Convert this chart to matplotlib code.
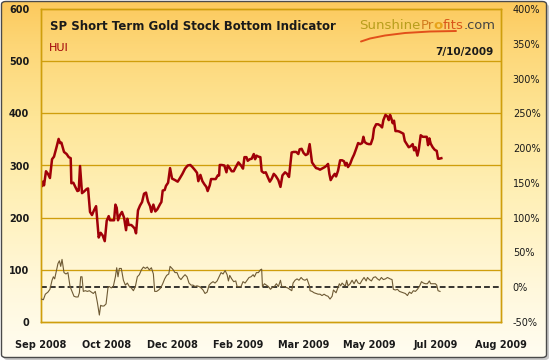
import numpy as np
import pandas as pd
import matplotlib
matplotlib.use('Agg')
import matplotlib.pyplot as plt
import matplotlib.dates as mdates
from matplotlib.patches import FancyBboxPatch
from matplotlib.colors import LinearSegmentedColormap

# Figure setup
W, H, DPI = 550, 361, 100
GOLD = '#CF9E0C'
HUI_RED = '#A00008'
OSC_BROWN = '#6E5A34'
TEXT_COLOR = '#1A1A1A'

START = pd.Timestamp('2008-09-05')

# HUI index (days after START, value)
hui_day = [0.8, 1.5, 2.3, 3.8, 5.3, 6.8, 8.4, 9.9, 11.7, 13.4,
           14.5, 15.5, 17.5, 19.5, 21.1, 22.6, 23.1, 24.6, 26.1, 27.7,
           28.7, 29.7, 31.2, 32.7, 34.8, 35.8, 37.3, 38.8, 40.3, 41.9,
           43.9, 45.4, 46.9, 48.5, 50.0, 51.5, 52.5, 54.0, 55.6, 56.6,
           57.6, 58.6, 60.1, 61.6, 63.2, 64.7, 65.7, 66.7, 68.7, 70.3,
           71.3, 72.3, 73.8, 75.3, 76.9, 78.4, 79.9, 81.4, 83.0, 84.0,
           85.5, 87.0, 88.5, 90.6, 91.6, 92.6, 94.1, 95.1, 96.7, 98.2,
           99.7,
           102.0, 104.0, 105.5, 107.6, 109.6, 111.6, 113.6, 115.2, 117.2, 118.7,
           119.7, 121.3, 122.8, 124.3, 125.8, 126.8, 128.4, 129.4, 131.4, 132.9,
           134.5, 135.5, 136.0, 137.5, 139.5, 141.1, 142.1, 143.6, 145.1, 146.6,
           148.2, 150.2, 152.2, 153.7, 154.8, 156.3, 157.3, 158.8, 160.3, 161.9,
           162.9, 163.9, 165.4, 166.9, 167.9, 169.5, 171.0, 172.5, 174.1, 175.6,
           177.1, 178.6, 180.6, 182.2, 183.7, 185.7, 187.2, 188.7, 189.7, 190.7,
           192.2, 194.2, 195.8, 196.8, 198.3, 199.8, 201.4, 202.9, 204.4,
           206.2, 207.8, 209.3, 210.8, 212.3, 213.8, 215.9, 217.4, 218.4, 219.4,
           220.4, 222.0, 223.5, 224.5, 226.0, 227.6, 229.1, 230.6, 231.6, 232.6,
           233.6, 235.2, 236.7, 238.2, 239.8, 241.3, 242.8, 244.3, 245.3, 246.3,
           247.9, 249.4, 250.9, 252.4, 253.4, 255.0, 256.5, 258.0, 259.5, 260.5,
           262.1, 263.6, 264.6, 265.6, 266.6, 267.6, 268.6, 269.7, 271.2, 272.7,
           274.2, 275.7, 276.8, 278.3, 279.8, 281.3, 282.8, 283.9, 284.9, 286.4,
           287.4, 288.9, 290.5, 292.0, 293.5, 294.5, 295.5, 296.5, 298.0, 299.6,
           301.1, 302.1, 303.1, 304.6]
hui_val = [261, 269, 262, 289, 284, 276, 312, 317, 334, 351,
           343, 344, 326, 322, 316, 314, 266, 267, 259, 251,
           252, 299, 247, 250, 255, 256, 211, 205, 214, 222,
           162, 171, 166, 155, 194, 203, 195, 195, 195, 225,
           219, 195, 205, 211, 200, 176, 198, 186, 186, 182,
           179, 170, 214, 223, 230, 246, 248, 231, 222, 211,
           225, 212, 216, 226, 230, 252, 253, 261, 267, 295,
           275,
           272, 269, 275, 284, 294, 300, 301, 297, 291, 286,
           270, 282, 270, 264, 259, 251, 262, 274, 274, 274,
           281, 281, 301, 301, 300, 287, 300, 295, 289, 289,
           297, 306, 300, 294, 316, 316, 309, 312, 313, 322,
           312, 319, 317, 316, 289, 286, 287, 278, 269, 275,
           284, 280, 272, 259, 281, 287, 284, 278, 301, 325,
           326, 326, 322, 331, 332, 324, 320, 322, 341,
           306, 300, 295, 294, 292, 294, 297, 300, 303, 284,
           272, 279, 284, 279, 290, 310, 310, 308, 300, 305,
           297, 303, 313, 321, 332, 343, 341, 343, 355, 345,
           342, 341, 341, 352, 371, 379, 379, 377, 373, 387,
           397, 394, 387, 397, 390, 381, 386, 366, 366, 365,
           363, 361, 347, 341, 335, 337, 341, 329, 335, 319,
           330, 358, 355, 355, 355, 339, 352, 342, 335, 330,
           328, 313, 313, 314]

# Short term indicator in % (days after START, value)
osc_day = [0.3, 1.8, 3.3, 5.3, 6.8, 8.4, 9.4, 10.4, 11.4, 12.9,
           14.0, 15.0, 16.0, 17.5, 19.0, 20.5, 22.1, 23.6, 25.1, 26.6,
           28.2, 29.2, 30.2, 31.2, 32.2, 33.7, 35.3, 36.8, 38.3, 39.8,
           41.3, 42.9, 44.4, 45.4, 46.4, 47.9, 49.5, 51.0, 52.0, 53.5,
           55.0, 56.6, 57.6, 58.6, 59.6, 61.1, 62.7, 64.2, 65.7, 67.2,
           68.7, 70.3, 71.8, 73.3, 74.8, 76.4, 77.9, 79.4, 80.9, 82.4,
           84.0, 85.5, 86.5, 88.0, 89.5, 91.1, 92.6, 94.1, 95.6, 97.2,
           98.2, 100.2,
           102.0, 103.5, 105.0, 106.5, 108.1, 109.6, 111.1, 112.6, 114.2, 115.7,
           117.2, 118.7, 120.3, 121.8, 123.3, 124.8, 126.4, 127.9, 129.4, 130.9,
           132.4, 134.0, 135.5, 137.0, 138.5, 140.1, 141.6, 142.6, 143.6, 145.1,
           146.6, 148.2, 149.2, 150.7, 152.2, 153.7, 155.3, 156.8, 158.3, 159.8,
           161.4, 162.4, 163.9, 165.4, 166.9, 167.9, 168.5, 170.0, 171.5, 173.0,
           174.6, 176.1, 177.6, 179.1, 180.6, 182.2, 183.2, 184.7, 186.2, 187.7,
           189.3, 190.8, 191.8, 193.3, 194.8, 196.3, 197.9, 199.4, 200.9, 202.4,
           204.4,
           204.7, 206.2, 207.8, 209.3, 210.8, 212.3, 213.8, 215.4, 216.9, 218.4,
           219.9, 221.5, 222.5, 223.5, 224.5, 226.0, 227.0, 228.0, 229.1, 230.6,
           231.6, 232.6, 233.6, 235.2, 236.7, 238.2, 239.8, 241.3, 242.8, 244.3,
           245.8, 247.4, 248.4, 249.9, 251.4, 252.9, 254.5, 256.0, 257.5, 259.0,
           260.5, 262.1, 263.6, 265.6, 267.1, 268.1, 269.6, 271.2, 272.7, 274.2,
           275.7, 277.2, 278.8, 280.3, 281.8, 283.3, 284.9, 286.4, 287.9, 289.5,
           291.0, 292.5, 294.0, 295.5, 296.5, 298.0, 300.1, 301.1, 302.1, 303.6]
osc_val = [-17, -18, -10, -7, -3, 10, 15, 12, 21, 34,
           38, 30, 40, 21, 19, 21, 1, -6, -13, -14,
           -14, -8, 15, 15, -6, -5, -6, -5, -7, -9,
           -6, -22, -40, -26, -27, -27, -24, 0, 1, -1,
           1, 15, 28, 15, 27, 27, 10, 3, 6, 1,
           -1, -5, 1, 15, 18, 25, 29, 27, 29, 25,
           28, 19, -6, -6, -4, -1, 5, 12, 17, 19,
           30, 26,
           21, 21, 14, 11, 15, 18, 15, 6, 3, 3,
           1, 2, 1, -1, -4, -9, -7, 3, 6, 8,
           6, 9, 15, 21, 19, 24, 18, 9, 17, 12,
           8, 9, 1, 1, 1, 8, 6, 10, 14, 15,
           18, 15, 21, 21, 25, 26, 1, 5, 3, 1,
           -3, 0, 1, 5, 1, 10, 1, 1, 0, -1,
           -3, -5, 6, 10, 12, 10, 14, 11, 10, 12,
           1,
           -5, -6, -8, -9, -10, -10, -12, -10, -12, -13,
           -17, -13, -4, -6, -8, 0, 5, 2, 6, 3,
           2, 10, 2, 5, 10, 5, 11, 6, 5, 10,
           14, 9, 14, 11, 9, 14, 15, 12, 10, 14,
           11, 12, 14, 12, 11, -3, -4, -3, -6, -7,
           -8, -9, -12, -7, -9, -5, -6, -3, 1, 8,
           6, 5, 5, 9, 5, 5, 5, 3, -5, -6]

left_ticks = [0, 100, 200, 300, 400, 500, 600]
right_ticks = [-50, 0, 50, 100, 150, 200, 250, 300, 350, 400]
tick_step_days = 50
n_ticks = 8


def px(x):
    return x / W


def py(y):
    return 1 - y / H


def main():
    plt.rcParams['font.family'] = 'DejaVu Sans'
    fig = plt.figure(figsize=(W / DPI, H / DPI), dpi=DPI, facecolor='white')

    # Fondo con degradado y borde redondeado
    frame = FancyBboxPatch((px(1.5), py(357.5)), px(545), 356 / H,
                           boxstyle='round,pad=0,rounding_size=0.008',
                           transform=fig.transFigure, facecolor='none',
                           edgecolor='#4A4A4A', linewidth=1.0, zorder=5)
    shadow = FancyBboxPatch((px(3.5), py(360)), px(545.5), 356 / H,
                            boxstyle='round,pad=0,rounding_size=0.008',
                            transform=fig.transFigure, facecolor='#C8C8C8',
                            edgecolor='none', zorder=0)
    fig.patches.append(shadow)

    bg = fig.add_axes([0, 0, 1, 1], zorder=1)
    cmap = LinearSegmentedColormap.from_list('sun', [
        (0.0, '#FCC95C'), (0.12, '#FDD676'), (0.32, '#FEE596'),
        (0.55, '#FFF0B8'), (0.8, '#FFF8DC'), (1.0, '#FFFDF2')])
    grad = np.linspace(0, 1, 256).reshape(-1, 1)
    im = bg.imshow(grad, cmap=cmap, aspect='auto', extent=[0, 1, 0, 1],
                   origin='upper')
    bg_clip = FancyBboxPatch((px(1.5), py(357.5)), px(545), 356 / H,
                             boxstyle='round,pad=0,rounding_size=0.008',
                             transform=fig.transFigure, facecolor='none',
                             edgecolor='none')
    im.set_clip_path(bg_clip)
    bg.set_xlim(0, 1)
    bg.set_ylim(0, 1)
    bg.axis('off')
    fig.patches.append(frame)

    # Eje principal
    ax = fig.add_axes([px(41), py(322), px(460), 313 / H], zorder=2)
    ax.patch.set_alpha(0)
    ax2 = ax.twinx()
    ax2.patch.set_alpha(0)

    hui_dates = START + pd.to_timedelta(hui_day, unit='D')
    osc_dates = START + pd.to_timedelta(osc_day, unit='D')

    for y in left_ticks[1:-1]:
        ax.axhline(y, color=GOLD, lw=0.95, zorder=1)

    ax.plot(hui_dates, hui_val, color=HUI_RED, lw=1.8, solid_joinstyle='round', zorder=3)
    ax2.axhline(0, color='black', lw=1.1, ls=(0, (3.8, 2.0)), zorder=2)
    ax2.plot(osc_dates, osc_val, color=OSC_BROWN, lw=0.8, zorder=3)

    ax.set_ylim(0, 600)
    ax2.set_ylim(-50, 400)
    ax.set_xlim(START, START + pd.Timedelta(days=tick_step_days * (n_ticks - 1)))

    ax.set_yticks(left_ticks)
    ax2.set_yticks(right_ticks)
    ax2.set_yticklabels([f'{v}%' for v in right_ticks])
    ax.set_xticks([START + pd.Timedelta(days=tick_step_days * k) for k in range(n_ticks)])
    ax.xaxis.set_major_formatter(mdates.DateFormatter('%b %Y'))

    ax.tick_params(axis='y', length=0, pad=8.5, labelsize=7, labelcolor=TEXT_COLOR)
    ax.tick_params(axis='x', length=0, pad=13, labelsize=7, labelcolor=TEXT_COLOR)
    for lbl in ax.get_yticklabels() + ax.get_xticklabels():
        lbl.set_fontweight('bold')
    ax2.tick_params(axis='y', length=0, pad=8.5, labelsize=7, labelcolor=TEXT_COLOR)

    for a in (ax, ax2):
        for s in a.spines.values():
            s.set_color(GOLD)
            s.set_linewidth(1.0)

    # Textos
    fig.text(px(50), py(26), 'SP Short Term Gold Stock Bottom Indicator',
             fontsize=8.5, fontweight='bold', color=TEXT_COLOR, va='center', ha='left', zorder=6)
    fig.text(px(49), py(48), 'HUI', fontsize=8, color=HUI_RED, va='center', ha='left', zorder=6)
    fig.text(px(494), py(52), '7/10/2009', fontsize=7.5, fontweight='bold',
             color=TEXT_COLOR, va='center', ha='right', zorder=6)

    # Logo SunshineProfits.com (piezas encadenadas)
    pieces = [('Sunshine', '#B89E1C', 'normal', 9.6),
              ('Pr', '#D27C1E', 'normal', 9.6),
              ('o', '#E8A31A', 'bold', 9.6),
              ('fits', '#D9561A', 'normal', 9.6),
              ('.com', '#444444', 'normal', 9.4)]
    r = fig.canvas.get_renderer()
    x_cur = 359
    for txt, col, fw, fs in pieces:
        t = fig.text(px(x_cur), py(29), txt, fontsize=fs, color=col, fontweight=fw,
                     va='baseline', ha='left', zorder=6)
        bb = t.get_window_extent(r)
        x_cur += bb.width

    # Trazo naranja bajo el logo
    sx = np.array([361, 370, 385, 405, 430, 456])
    sy = np.array([41.5, 38.5, 35.5, 33.0, 31.5, 31.0])
    fig.lines.append(plt.Line2D(px(sx), py(sy), transform=fig.transFigure,
                                color='#E2501A', lw=1.4, solid_capstyle='round', zorder=6))

    fig.savefig('out.png', dpi=DPI, facecolor='white')
    plt.close(fig)


if __name__ == '__main__':
    main()
